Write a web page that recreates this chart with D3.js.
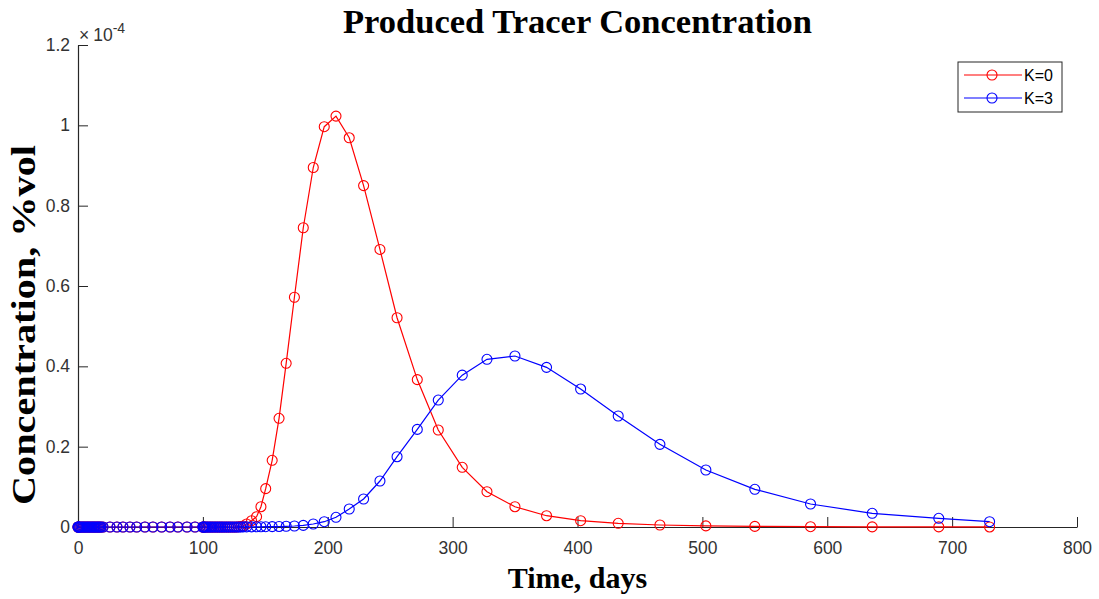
<!DOCTYPE html>
<html>
<head>
<meta charset="utf-8">
<script src="https://cdn.jsdelivr.net/npm/d3@7"></script>
<style>
  html, body { margin: 0; padding: 0; background: #fff; }
  svg { display: block; }
</style>
</head>
<body>
<svg id="chart" width="1099" height="599"></svg>
<script>
// ---- Data (concentration in units of 1e-4 %vol) ----
const timeDays = [
  0, 0.1, 0.3, 0.7, 1.5, 2.5, 3.5, 4.5, 5.5, 6.5, 7.5, 8.5, 9.5, 10.5, 11.5, 12.5,
  13.5, 14.5, 15.5, 16.5, 17.5, 18.5, 20, 25.6, 31.2, 36, 41.6, 47, 53.6, 60, 67,
  73.7, 80, 87.3, 93.7,
  100, 100.2, 100.6, 101.4, 102.5, 103.7, 105, 106.3, 107.6, 109, 110.4, 111.8,
  113.2, 114.6, 116, 117.5, 119, 120.5, 122, 123.6, 125.2, 126.8, 128.5, 130.3,
  132.3, 135, 139, 143, 146.5, 150.3, 155.5, 161, 166.7, 173.3, 180.4, 188.4,
  197.2, 206.6, 217.2, 228.7, 241.8, 255.5, 271.7, 288.5, 307.7, 327.5, 349.9,
  375.2, 402.5, 432.6, 466, 502.8, 542, 586.6, 636, 689.3, 730
];
const concK0 = [
  0, 0, 0, 0, 0, 0, 0, 0, 0, 0, 0, 0, 0, 0, 0, 0,
  0, 0, 0, 0, 0, 0, 0, 0, 0, 0, 0, 0, 0, 0, 0,
  0, 0, 0, 0,
  0, 0, 0, 0, 0, 0, 0, 0, 0, 0, 0, 0,
  0, 0, 0, 0, 0, 0, 0, 0, 0, 0, 0.0005, 0.001,
  0.0025, 0.0075, 0.0157, 0.0257, 0.0505, 0.0955, 0.166, 0.2706, 0.4075, 0.572, 0.745, 0.895,
  0.9966, 1.023, 0.969, 0.850, 0.691, 0.521, 0.367, 0.2415, 0.1486, 0.0879, 0.0505,
  0.0281, 0.0157, 0.0092, 0.005, 0.0028, 0.0015, 0.0008, 0.0004, 0.0002, 0.0001
];
const concK3 = [
  0, 0, 0, 0, 0, 0, 0, 0, 0, 0, 0, 0, 0, 0, 0, 0,
  0, 0, 0, 0, 0, 0, 0, 0, 0, 0, 0, 0, 0, 0, 0,
  0, 0, 0, 0,
  0, 0, 0, 0, 0, 0, 0, 0, 0, 0, 0, 0,
  0, 0, 0, 0, 0, 0, 0, 0, 0, 0, 0.0001, 0.0001,
  0.0002, 0.0003, 0.0004, 0.0005, 0.0006, 0.0008, 0.001, 0.0013, 0.0018, 0.0025, 0.004, 0.0075,
  0.0132, 0.0241, 0.0448, 0.0697, 0.1145, 0.175, 0.243, 0.316, 0.378, 0.4175, 0.4257,
  0.3975, 0.3435, 0.2763, 0.2058, 0.1419, 0.0938, 0.0573, 0.0341, 0.0216, 0.0132
];
const seriesNames = ["K=0", "K=3"];
const seriesColors = ["#ff0000", "#0000ff"];
const xTicks = [0, 100, 200, 300, 400, 500, 600, 700, 800];
const yTicks = [0, 0.2, 0.4, 0.6, 0.8, 1, 1.2];
const titleText = "Produced Tracer Concentration";
const xLabelText = "Time, days";
const yLabelText = "Concentration, %vol";

// ---- Layout ----
const svg = d3.select("#chart");
const plotLeft = 78, plotRight = 1077, plotTop = 45, plotBottom = 527;
const x = d3.scaleLinear().domain([0, 800]).range([plotLeft, plotRight]);
const y = d3.scaleLinear().domain([0, 1.2]).range([plotBottom, plotTop]);
const axisColor = "#262626";
const sans = "Liberation Sans, Arial, sans-serif";
const serif = "Liberation Serif, Times New Roman, serif";

// Axes
const xAxis = d3.axisBottom(x).tickValues(xTicks).tickSizeInner(-10).tickSizeOuter(0)
  .tickPadding(15).tickFormat(d3.format("d"));
const gx = svg.append("g").attr("transform", `translate(0,${plotBottom})`).call(xAxis);
const yAxis = d3.axisLeft(y).tickValues(yTicks).tickSizeInner(-10).tickSizeOuter(0)
  .tickPadding(8).tickFormat(d => d3.format("~g")(d));
const gy = svg.append("g").attr("transform", `translate(${plotLeft},0)`).call(yAxis);
[gx, gy].forEach(g => {
  g.select(".domain").attr("stroke", axisColor).attr("stroke-width", 1.2);
  g.selectAll(".tick line").attr("stroke", axisColor).attr("stroke-width", 1);
  g.selectAll(".tick text").attr("fill", "#333").attr("font-family", sans)
    .attr("font-size", 17.5);
});

// Exponent label
const expo = svg.append("text").attr("x", 79).attr("y", 41)
  .attr("font-family", sans).attr("font-size", 17.5).attr("fill", "#333");
expo.append("tspan").text("\u00d7");
expo.append("tspan").attr("dx", 4).text("10");
expo.append("tspan").attr("dy", -8).attr("font-size", 14).text("-4");

// Series
const seriesData = [concK0, concK3];
const line = d3.line().x(d => x(d[0])).y(d => y(d[1]));
seriesData.forEach((vals, i) => {
  const pts = timeDays.map((t, j) => [t, vals[j]]);
  const g = svg.append("g");
  g.append("path").datum(pts).attr("d", line).attr("fill", "none")
    .attr("stroke", seriesColors[i]).attr("stroke-width", 1.2);
  g.selectAll("circle").data(pts).join("circle")
    .attr("cx", d => x(d[0])).attr("cy", d => y(d[1])).attr("r", 5)
    .attr("fill", "none").attr("stroke", seriesColors[i]).attr("stroke-width", 1.1);
});

// Title and labels
svg.append("text").attr("x", (plotLeft + plotRight) / 2).attr("y", 33).attr("text-anchor", "middle")
  .attr("font-family", serif).attr("font-weight", "bold")
  .attr("font-size", 34.5).attr("fill", "#000").text(titleText);
svg.append("text").attr("x", (plotLeft + plotRight) / 2).attr("y", 588).attr("text-anchor", "middle")
  .attr("font-family", serif).attr("font-weight", "bold")
  .attr("font-size", 30).attr("fill", "#000").text(xLabelText);
svg.append("text").attr("transform", "translate(35,325) rotate(-90)").attr("text-anchor", "middle")
  .attr("font-family", serif).attr("font-weight", "bold")
  .attr("font-size", 33).attr("textLength", 360).attr("lengthAdjust", "spacingAndGlyphs")
  .attr("fill", "#000").text(yLabelText);

// Legend
const lg = svg.append("g");
lg.append("rect").attr("x", 958).attr("y", 62).attr("width", 104).attr("height", 50)
  .attr("fill", "#fff").attr("stroke", axisColor).attr("stroke-width", 1);
seriesNames.forEach((name, i) => {
  const yy = 75 + i * 23;
  lg.append("line").attr("x1", 964).attr("x2", 1022).attr("y1", yy).attr("y2", yy)
    .attr("stroke", seriesColors[i]).attr("stroke-width", 1.2);
  lg.append("circle").attr("cx", 992).attr("cy", yy).attr("r", 5).attr("fill", "none")
    .attr("stroke", seriesColors[i]).attr("stroke-width", 1.1);
  lg.append("text").attr("x", 1024).attr("y", yy + 6).attr("font-family", sans)
    .attr("font-size", 16).attr("fill", "#000").text(name);
});
</script>
</body>
</html>
